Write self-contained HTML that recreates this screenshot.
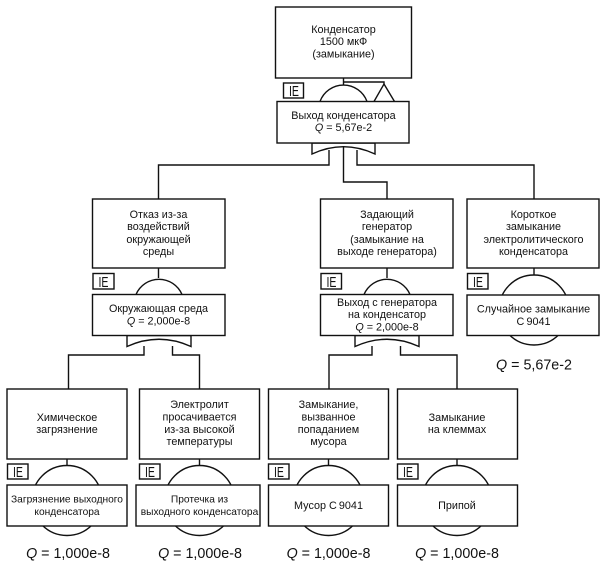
<!DOCTYPE html>
<html><head><meta charset="utf-8">
<style>
html,body{margin:0;padding:0;background:#fff;width:605px;height:563px;overflow:hidden}
svg{display:block}
.l{fill:none;stroke:#111;stroke-width:1.4}
.b{fill:#fff;stroke:#111;stroke-width:1.4}
text{font-family:"Liberation Sans",sans-serif;fill:#111;text-anchor:middle;font-size:10.8px}
.s{font-size:10.2px}
.q{font-size:14.3px}
.ie{font-size:15px;text-anchor:start}
</style></head><body>
<svg width="605" height="563" viewBox="0 0 605 563" xmlns="http://www.w3.org/2000/svg">
<!-- connectors -->
<path class="l" d="M343.5,78V85M343.5,82H384V85M329,150V165H158.5V199M357,150V165H534V199M343.5,146V182H387V199"/>
<path class="l" d="M158.5,268V278M144,346V355H68.5V389M172.5,346V355H199.5V389"/>
<path class="l" d="M387,268V278M372,346V355H329V389M400.5,346V355H457V389"/>
<path class="l" d="M534,268V275M67,459V465M199.5,459V465M328.5,459V465M457,459V465"/>
<!-- top -->
<rect class="b" x="275.5" y="7" width="136" height="71"/>
<text x="343.5" y="33">Конденсатор</text><text x="343.5" y="45">1500 мкФ</text><text x="343.5" y="57.5">(замыкание)</text>
<rect class="b" x="283.5" y="83" width="20" height="15"/><text class="ie" x="289" y="96" textLength="10" lengthAdjust="spacingAndGlyphs">IE</text>
<path class="l" d="M320,101.500A25,25 0 0 1 367,101.500"/>
<path class="l" d="M374,101.500L384,84L394.500,101.500"/>
<path class="b" d="M312,143V154Q343.500,139.400 375,154V143Z"/>
<rect class="b" x="277" y="101.500" width="132" height="41.500"/>
<text x="343.500" y="119">Выход конденсатора</text><text x="343.500" y="131"><tspan font-style="italic">Q</tspan> = 5,67e-2</text>
<!-- row 2 left -->
<rect class="b" x="92.500" y="199" width="132.500" height="69"/>
<text x="158.500" y="218">Отказ из-за</text><text x="158.500" y="230">воздействий</text><text x="158.500" y="243">окружающей</text><text x="158.500" y="255">среды</text>
<rect class="b" x="93" y="273.500" width="21" height="15.500"/><text class="ie" x="98.500" y="287" textLength="10" lengthAdjust="spacingAndGlyphs">IE</text>
<path class="l" d="M136,294.500A25,25 0 0 1 182,294.500"/>
<path class="b" d="M127,335.500V346.500Q159,332 191,346.500V335.500Z"/>
<rect class="b" x="92.500" y="294.500" width="132.500" height="41"/>
<text x="158.500" y="312">Окружающая среда</text><text x="158.500" y="324.500"><tspan font-style="italic">Q</tspan> = 2,000e-8</text>
<!-- row 2 middle -->
<rect class="b" x="320.500" y="199" width="132.500" height="69"/>
<text x="387" y="218">Задающий</text><text x="387" y="230">генератор</text><text x="387" y="243">(замыкание на</text><text x="387" y="255">выходе генератора)</text>
<rect class="b" x="321" y="273.500" width="20.500" height="15.500"/><text class="ie" x="326.500" y="287" textLength="10" lengthAdjust="spacingAndGlyphs">IE</text>
<path class="l" d="M364,294.500A25,25 0 0 1 410,294.500"/>
<path class="b" d="M355,335.500V346.500Q387,332 419,346.500V335.500Z"/>
<rect class="b" x="320.500" y="294.500" width="132.500" height="41"/>
<text x="387" y="306">Выход с генератора</text><text x="387" y="318">на конденсатор</text><text x="387" y="330.500"><tspan font-style="italic">Q</tspan> = 2,000e-8</text>
<!-- row 2 right -->
<rect class="b" x="467" y="199" width="132" height="69"/>
<text x="533.500" y="218">Короткое</text><text x="533.500" y="230">замыкание</text><text x="533.500" y="243">электролитического</text><text x="533.500" y="255">конденсатора</text>
<rect class="b" x="467.500" y="273.500" width="20.500" height="15.500"/><text class="ie" x="473" y="287" textLength="10" lengthAdjust="spacingAndGlyphs">IE</text>
<circle class="l" cx="534" cy="310" r="35"/>
<rect class="b" x="467" y="295" width="132" height="40.500"/>
<text x="533.500" y="312.500">Случайное замыкание</text><text x="533.500" y="325">С&#8201;9041</text>
<text class="q" x="534" y="369.500"><tspan font-style="italic">Q</tspan> = 5,67e-2</text>
<!-- bottom 1 -->
<rect class="b" x="7" y="389" width="120" height="70"/>
<text x="67" y="421">Химическое</text><text x="67" y="433">загрязнение</text>
<rect class="b" x="7.500" y="464" width="20.500" height="15"/><text class="ie" x="13" y="477" textLength="10" lengthAdjust="spacingAndGlyphs">IE</text>
<circle class="l" cx="67" cy="500.500" r="35"/>
<rect class="b" x="7" y="485" width="120" height="41"/>
<text class="s" x="67" y="502.500">Загрязнение выходного</text><text class="s" x="67" y="515">конденсатора</text>
<text class="q" x="68" y="558"><tspan font-style="italic">Q</tspan> = 1,000e-8</text>
<!-- bottom 2 -->
<rect class="b" x="139.500" y="389" width="120" height="70"/>
<text x="199.500" y="408">Электролит</text><text x="199.500" y="420.500">просачивается</text><text x="199.500" y="433">из-за высокой</text><text x="199.500" y="445">температуры</text>
<rect class="b" x="139.500" y="464" width="20.500" height="15"/><text class="ie" x="145" y="477" textLength="10" lengthAdjust="spacingAndGlyphs">IE</text>
<circle class="l" cx="199.500" cy="500.500" r="35"/>
<rect class="b" x="136" y="485" width="124" height="41"/>
<text class="s" x="199.500" y="502.500">Протечка из</text><text class="s" x="199.500" y="515">выходного конденсатора</text>
<text class="q" x="200" y="558"><tspan font-style="italic">Q</tspan> = 1,000e-8</text>
<!-- bottom 3 -->
<rect class="b" x="268.500" y="389" width="120" height="70"/>
<text x="328.500" y="408">Замыкание,</text><text x="328.500" y="420.500">вызванное</text><text x="328.500" y="433">попаданием</text><text x="328.500" y="445">мусора</text>
<rect class="b" x="268.500" y="464" width="20.500" height="15"/><text class="ie" x="274" y="477" textLength="10" lengthAdjust="spacingAndGlyphs">IE</text>
<circle class="l" cx="328.500" cy="500.500" r="35"/>
<rect class="b" x="268.500" y="485" width="120" height="41"/>
<text x="328.500" y="509">Мусор С&#8201;9041</text>
<text class="q" x="328.500" y="558"><tspan font-style="italic">Q</tspan> = 1,000e-8</text>
<!-- bottom 4 -->
<rect class="b" x="397.500" y="389" width="120" height="70"/>
<text x="457" y="421">Замыкание</text><text x="457" y="433">на клеммах</text>
<rect class="b" x="397.500" y="464" width="20.500" height="15"/><text class="ie" x="403" y="477" textLength="10" lengthAdjust="spacingAndGlyphs">IE</text>
<circle class="l" cx="457" cy="500.500" r="35"/>
<rect class="b" x="397.500" y="485" width="120" height="41"/>
<text x="457" y="509">Припой</text>
<text class="q" x="457" y="558"><tspan font-style="italic">Q</tspan> = 1,000e-8</text>
</svg>
</body></html>
